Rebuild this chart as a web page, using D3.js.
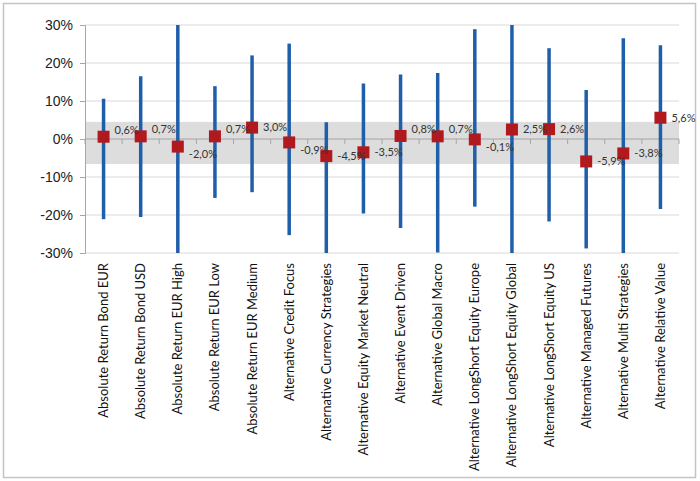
<!DOCTYPE html>
<html>
<head>
<meta charset="utf-8">
<script src="https://cdnjs.cloudflare.com/ajax/libs/d3/7.8.5/d3.min.js"></script>
<style>
  body { margin: 0; background: #fff; }
  svg { font-family: Lato, "Open Sans", sans-serif; }
</style>
</head>
<body>
<svg id="chart" width="700" height="481"></svg>
<script>
// categorias
var categories = ["Absolute Return Bond EUR", "Absolute Return Bond USD", "Absolute Return EUR High",
  "Absolute Return EUR Low", "Absolute Return EUR Medium", "Alternative Credit Focus",
  "Alternative Currency Strategies", "Alternative Equity Market Neutral", "Alternative Event Driven",
  "Alternative Global Macro", "Alternative LongShort Equity Europe", "Alternative LongShort Equity Global",
  "Alternative LongShort Equity US", "Alternative Managed Futures", "Alternative Multi Strategies",
  "Alternative Relative Value"];

// valores (%)
var media = [0.6, 0.7, -2.0, 0.7, 3.0, -0.9, -4.5, -3.5, 0.8, 0.7, -0.1, 2.5, 2.6, -5.9, -3.8, 5.6];
var maximo = [10.6, 16.5, 30, 13.9, 22.0, 25.1, 4.4, 14.6, 17.0, 17.4, 28.9, 30, 23.9, 12.9, 26.5, 24.7];
var minimo = [-21.1, -20.5, -30, -15.5, -14.0, -25.3, -30, -19.6, -23.4, -29.9, -17.8, -30, -21.7, -28.8, -30, -18.4];

// banda gris
var banda = [4.5, -6.6];
var yTicks = [-30, -20, -10, 0, 10, 20, 30];

var svg = d3.select("#chart");

svg.append("rect")
  .attr("x", 3.5).attr("y", 3.5)
  .attr("width", 692).attr("height", 474)
  .style("fill", "none").style("stroke", "#c4c4c4").style("stroke-width", 1.5);

var mLeft = 85, mRight = 679, mTop = 25, mBottom = 253;

var x = d3.scaleBand().domain(categories).range([mLeft, mRight]);
var y = d3.scaleLinear().domain([-30, 30]).range([mBottom, mTop]);

// grid
svg.append("g").selectAll("line")
  .data(yTicks)
  .enter().append("line")
  .attr("x1", mLeft).attr("x2", mRight)
  .attr("y1", function(d) { return y(d); })
  .attr("y2", function(d) { return y(d); })
  .style("stroke", "#d9d9d9").style("stroke-width", 1);

// banda
svg.append("rect")
  .attr("x", mLeft).attr("width", mRight - mLeft)
  .attr("y", y(banda[0]))
  .attr("height", y(banda[1]) - y(banda[0]))
  .style("fill", "#d9d9d9").style("opacity", 0.9);

// eje y
var yAxis = svg.append("g")
  .attr("transform", "translate(" + mLeft + ",0)")
  .call(d3.axisLeft(y).tickValues(yTicks).tickSize(5).tickPadding(7)
    .tickFormat(function(d) { return d + "%"; }));
yAxis.select(".domain").style("stroke", "#a6a6a6");
yAxis.selectAll(".tick line").style("stroke", "#a6a6a6");
yAxis.selectAll("text").style("font-size", "14px").style("fill", "#222");

// eje x en el 0
var xb = d3.range(categories.length + 1).map(function(i) { return mLeft + i * x.step(); });
svg.append("line")
  .attr("x1", mLeft).attr("x2", mRight)
  .attr("y1", y(0)).attr("y2", y(0))
  .style("stroke", "#a6a6a6");
svg.append("g").selectAll("line")
  .data(xb)
  .enter().append("line")
  .attr("x1", function(d) { return d; }).attr("x2", function(d) { return d; })
  .attr("y1", y(0)).attr("y2", y(0) + 5)
  .style("stroke", "#a6a6a6");

var cx = function(d) { return x(d) + x.bandwidth() / 2; };

// rangos
svg.append("g").selectAll("line")
  .data(categories)
  .enter().append("line")
  .attr("x1", cx).attr("x2", cx)
  .attr("y1", function(d, i) { return y(maximo[i]); })
  .attr("y2", function(d, i) { return y(minimo[i]); })
  .style("stroke", "#1f5ea8").style("stroke-width", 3.5);

// marcadores
svg.append("g").selectAll("rect")
  .data(categories)
  .enter().append("rect")
  .attr("x", function(d) { return cx(d) - 6; })
  .attr("y", function(d, i) { return y(media[i]) - 6; })
  .attr("width", 12).attr("height", 12)
  .style("fill", "#b0191e");

// etiquetas (las cercanas al 0 se apartan del eje)
svg.append("g").selectAll("text")
  .data(categories)
  .enter().append("text")
  .attr("x", function(d) { return cx(d) + 11; })
  .attr("y", function(d, i) {
    var v = media[i], off = 0;
    if (Math.abs(v) < 2.5) off = v >= 0 ? -7 : 8;
    return y(v) + off;
  })
  .attr("dy", "0.35em")
  .style("font-size", "11px").style("fill", "#333")
  .text(function(d, i) { return media[i].toFixed(1).replace(".", ",") + "%"; });

// nombres categorias
svg.append("g").selectAll("text")
  .data(categories)
  .enter().append("text")
  .attr("transform", function(d) { return "translate(" + (cx(d) + 4.5) + ",263) rotate(-90)"; })
  .style("text-anchor", "end")
  .style("font-size", "13px").style("fill", "#111")
  .text(function(d) { return d; });
</script>
</body>
</html>
